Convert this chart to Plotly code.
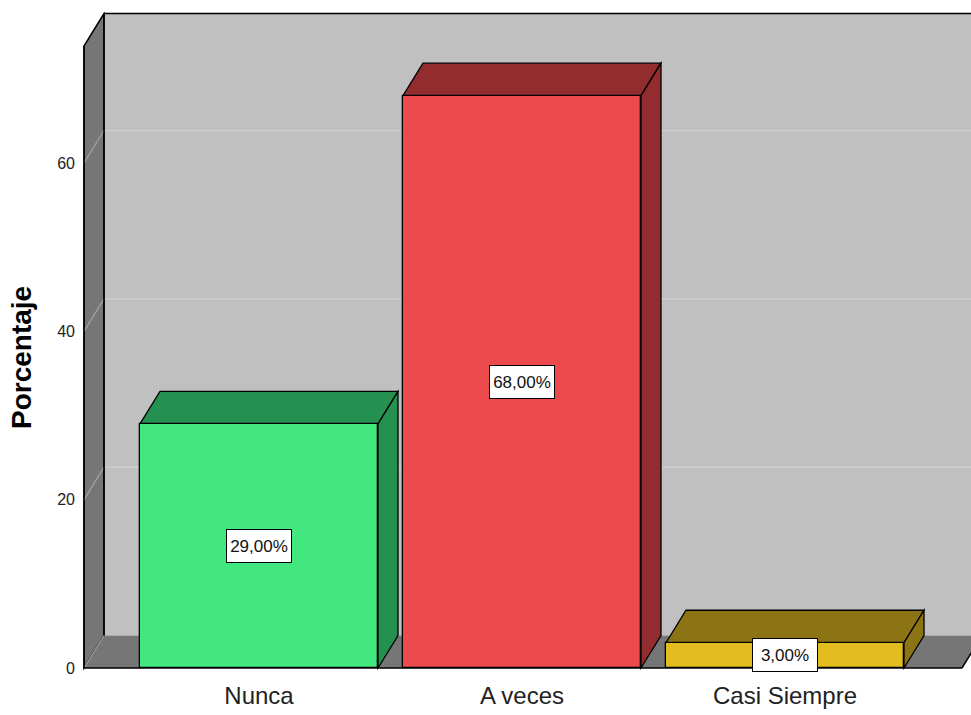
import plotly.graph_objects as go

# Survey frequencies (percent of respondents)
categories = ["Nunca", "A veces", "Casi Siempre"]
percentages = [29.0, 68.0, 3.0]
front_colors = ["#42e87f", "#ec4a4d", "#e3bd20"]
shade_colors = ["#249150", "#922c2f", "#8c7415"]
y_ticks = [0, 20, 40, 60]

# 3D box geometry (axis units)
BAR_W = 0.905          # bar width in category units
DX, DY = 0.076, 3.86   # depth offset of the pseudo-3D projection
WALL_LEFT = -0.6654    # x of the front-left wall edge
FLOOR_RIGHT = 2.673    # x of the front-right floor edge
WALL_TOP = 73.9        # height of the side wall
X_RANGE = [-0.6806, 2.7072]
Y_RANGE = [-0.356, 77.94]

WALL_BACK = "#c0c0c0"
WALL_DARK = "#767676"
FONT = "Liberation Sans, Arial, sans-serif"


def path(points):
    return "M " + " L ".join(f"{x},{y}" for x, y in points) + " Z"


shapes = []
far_right = X_RANGE[1] + 1

# back wall
shapes.append(dict(type="rect", xref="x", yref="y", layer="below",
                   x0=WALL_LEFT + DX, x1=far_right, y0=DY, y1=WALL_TOP + DY,
                   fillcolor=WALL_BACK, line=dict(width=0)))
# grid on the back wall
for t in y_ticks[1:]:
    shapes.append(dict(type="line", xref="x", yref="y", layer="below",
                       x0=WALL_LEFT + DX, x1=far_right, y0=t + DY, y1=t + DY,
                       line=dict(color="#d0d0d0", width=1.2)))
# left wall
shapes.append(dict(type="path", xref="x", yref="y", layer="below",
                   path=path([(WALL_LEFT, 0), (WALL_LEFT, WALL_TOP),
                              (WALL_LEFT + DX, WALL_TOP + DY), (WALL_LEFT + DX, DY)]),
                   fillcolor=WALL_DARK, line=dict(color="black", width=1.5)))
# floor
shapes.append(dict(type="path", xref="x", yref="y", layer="below",
                   path=path([(WALL_LEFT, 0), (FLOOR_RIGHT, 0),
                              (FLOOR_RIGHT + DX, DY), (WALL_LEFT + DX, DY)]),
                   fillcolor=WALL_DARK, line=dict(width=0)))
# grid on the left wall
for t in y_ticks:
    shapes.append(dict(type="line", xref="x", yref="y", layer="below",
                       x0=WALL_LEFT, x1=WALL_LEFT + DX, y0=t, y1=t + DY,
                       line=dict(color="#a4a4a4", width=1.2)))
# edges of the box
shapes.append(dict(type="line", xref="x", yref="y", layer="below",
                   x0=WALL_LEFT + DX, x1=far_right, y0=WALL_TOP + DY, y1=WALL_TOP + DY,
                   line=dict(color="black", width=1.5)))
shapes.append(dict(type="line", xref="x", yref="y", layer="below",
                   x0=WALL_LEFT + DX, x1=WALL_LEFT + DX, y0=DY, y1=WALL_TOP + DY,
                   line=dict(color="black", width=1.5)))
shapes.append(dict(type="line", xref="x", yref="y", layer="below",
                   x0=WALL_LEFT, x1=WALL_LEFT, y0=0, y1=WALL_TOP,
                   line=dict(color="black", width=1.5)))
shapes.append(dict(type="line", xref="x", yref="y", layer="below",
                   x0=WALL_LEFT, x1=FLOOR_RIGHT, y0=0, y1=0,
                   line=dict(color="black", width=1.5)))
shapes.append(dict(type="line", xref="x", yref="y", layer="below",
                   x0=FLOOR_RIGHT, x1=FLOOR_RIGHT + DX, y0=0, y1=DY,
                   line=dict(color="black", width=1.5)))

# top and side faces of each bar
for i, (v, shade) in enumerate(zip(percentages, shade_colors)):
    x0, x1 = i - BAR_W / 2, i + BAR_W / 2
    shapes.append(dict(type="path", xref="x", yref="y", layer="below",
                       path=path([(x0, v), (x0 + DX, v + DY), (x1 + DX, v + DY), (x1, v)]),
                       fillcolor=shade, line=dict(color="black", width=1.3)))
    shapes.append(dict(type="path", xref="x", yref="y", layer="below",
                       path=path([(x1, 0), (x1 + DX, DY), (x1 + DX, v + DY), (x1, v)]),
                       fillcolor=shade, line=dict(color="black", width=1.3)))

fig = go.Figure(go.Bar(
    x=list(range(len(categories))), y=percentages, width=BAR_W,
    marker=dict(color=front_colors, line=dict(color="black", width=1.3)),
    hoverinfo="skip",
))

annotations = []
for i, v in enumerate(percentages):
    label = f"{v:.2f}".replace(".", ",") + "%"
    annotations.append(dict(x=i, y=v / 2, xref="x", yref="y", text=label,
                            showarrow=False, bgcolor="white", bordercolor="black",
                            borderwidth=1, borderpad=2, width=60, height=28,
                            font=dict(family=FONT, size=17, color="#111")))

annotations.append(dict(x=-0.0651, y=0.4765, xref="paper", yref="paper",
                        text="<b>Porcentaje</b>", textangle=-90, showarrow=False,
                        xanchor="center", yanchor="middle",
                        font=dict(family=FONT, size=28, color="black")))

fig.update_layout(
    width=971, height=715,
    margin=dict(l=80, r=0, t=12, b=44),
    paper_bgcolor="white", plot_bgcolor="white",
    showlegend=False,
    shapes=shapes,
    annotations=annotations,
    bargap=0,
    xaxis=dict(range=X_RANGE, tickvals=list(range(len(categories))), ticktext=categories,
               showgrid=False, zeroline=False, showline=False, ticks="",
               ticklabelstandoff=8,
               tickfont=dict(family=FONT, size=24, color="#222")),
    yaxis=dict(range=Y_RANGE, tickvals=y_ticks, showgrid=False, zeroline=False,
               showline=False, ticks="", ticklabelstandoff=4,
               tickfont=dict(family=FONT, size=16, color="#222")),
)

fig.write_html("out.html")
